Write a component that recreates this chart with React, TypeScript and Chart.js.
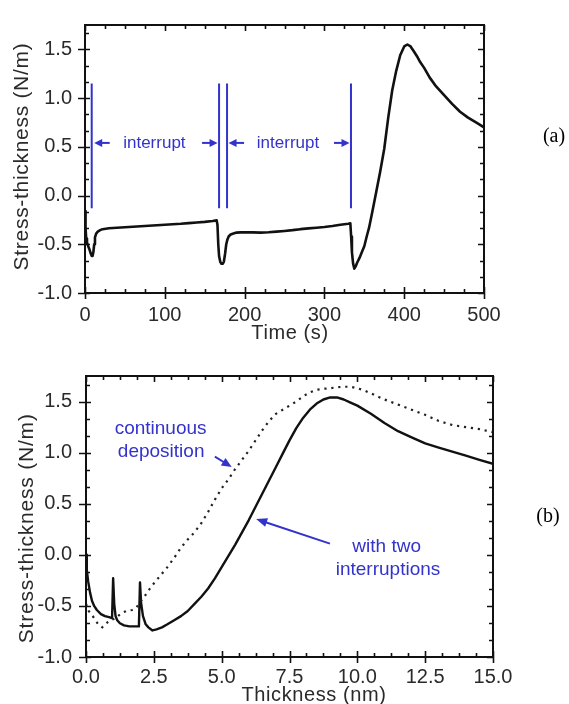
import React, { useEffect, useRef } from "react";
import { Chart, registerables } from "chart.js";

Chart.register(...registerables);

// ---------- Panel (a): stress-thickness vs time ----------
const timeS = [0, 0.7, 1.5, 2.5, 4, 5.5, 7, 8.5, 9.5, 10.5, 11.5, 12.5, 14, 16, 19, 22, 26, 30, 40, 50, 60, 70, 80, 90, 100, 110, 120, 130, 140, 150, 160, 165, 166, 167, 168, 169.5, 171, 172.5, 174, 175.5, 177, 178.5, 180, 182.5, 186, 190, 195, 200, 210, 220, 230, 240, 250, 260, 270, 280, 290, 300, 310, 320, 330, 332.5, 333.5, 334.5, 336, 337.5, 339, 341, 344, 347, 350, 353, 356, 360, 365, 370, 375, 380, 385, 390, 395, 400, 404, 408, 412, 416, 420, 425, 432, 440, 450, 460, 470, 480, 490, 500];
const stressTime = [-0.16, -0.33, -0.44, -0.48, -0.52, -0.55, -0.59, -0.62, -0.62, -0.58, -0.5, -0.43, -0.39, -0.37, -0.355, -0.345, -0.34, -0.335, -0.33, -0.325, -0.32, -0.315, -0.31, -0.305, -0.3, -0.295, -0.29, -0.283, -0.276, -0.27, -0.262, -0.255, -0.3, -0.5, -0.62, -0.68, -0.7, -0.7, -0.68, -0.6, -0.5, -0.45, -0.42, -0.4, -0.39, -0.38, -0.378, -0.377, -0.378, -0.38, -0.377, -0.37, -0.363, -0.355, -0.345, -0.337, -0.33, -0.322, -0.312, -0.3, -0.29, -0.285, -0.42, -0.58, -0.7, -0.75, -0.73, -0.69, -0.64, -0.58, -0.52, -0.42, -0.33, -0.17, 0.04, 0.25, 0.48, 0.8, 1.08, 1.28, 1.44, 1.53, 1.55, 1.53, 1.48, 1.43, 1.37, 1.31, 1.21, 1.12, 1.03, 0.94, 0.86, 0.8, 0.75, 0.7];
const interruptTimes = [8.4, 168, 178, 333.3];
const interruptLineRange = [-0.13, 1.15];
const interruptTextY = 0.54;
const interruptText = "interrupt";
const xTicksTime = [0, 100, 200, 300, 400, 500];

// ---------- Panel (b): stress-thickness vs thickness ----------
const thickSolid = [0, 0.03, 0.08, 0.15, 0.22, 0.3, 0.4, 0.55, 0.7, 0.85, 0.96, 1.0, 1.04, 1.09, 1.15, 1.25, 1.4, 1.6, 1.8, 1.95, 1.99, 2.03, 2.1, 2.2, 2.3, 2.45, 2.6, 2.8, 3.0, 3.25, 3.5, 3.75, 4.0, 4.25, 4.5, 4.75, 5.0, 5.25, 5.5, 5.75, 6.0, 6.25, 6.5, 6.75, 7.0, 7.25, 7.5, 7.75, 8.0, 8.25, 8.5, 8.75, 9.0, 9.25, 9.5, 9.75, 10.0, 10.5, 11.0, 11.5, 12.0, 12.5, 13.0, 13.5, 14.0, 14.5, 15.0];
const stressSolid = [0.0, -0.15, -0.26, -0.37, -0.45, -0.5, -0.54, -0.58, -0.6, -0.61, -0.62, -0.23, -0.48, -0.6, -0.64, -0.67, -0.69, -0.7, -0.7, -0.7, -0.27, -0.47, -0.6, -0.68, -0.71, -0.74, -0.73, -0.71, -0.68, -0.64, -0.6, -0.55, -0.48, -0.41, -0.33, -0.23, -0.12, -0.01, 0.1, 0.22, 0.34, 0.47, 0.6, 0.73, 0.86, 0.99, 1.12, 1.24, 1.34, 1.42, 1.48, 1.52, 1.54, 1.54, 1.52, 1.49, 1.46, 1.38, 1.29, 1.21, 1.15, 1.09, 1.05, 1.01, 0.97, 0.93, 0.89];
const thickDotted = [0, 0.1, 0.2, 0.3, 0.45, 0.6, 0.75, 0.9, 1.1, 1.3, 1.5, 1.7, 1.85, 2.0, 2.15, 2.3, 2.5, 2.75, 3.0, 3.25, 3.5, 3.75, 4.0, 4.25, 4.5, 4.75, 5.0, 5.25, 5.5, 5.75, 6.0, 6.25, 6.5, 6.75, 7.0, 7.25, 7.5, 7.75, 8.0, 8.25, 8.5, 8.75, 9.0, 9.25, 9.5, 9.75, 10.0, 10.25, 10.5, 10.75, 11.0, 11.5, 12.0, 12.5, 13.0, 13.5, 14.0, 14.5, 15.0];
const stressDotted = [-0.48, -0.55, -0.58, -0.62, -0.68, -0.71, -0.67, -0.64, -0.62, -0.57, -0.55, -0.54, -0.52, -0.46, -0.41, -0.35, -0.28, -0.2, -0.12, -0.03, 0.07, 0.15, 0.22, 0.31, 0.42, 0.54, 0.65, 0.74, 0.84, 0.93, 1.02, 1.12, 1.22, 1.31, 1.38, 1.42, 1.46, 1.5, 1.55, 1.59, 1.615, 1.625, 1.63, 1.64, 1.645, 1.645, 1.63, 1.61, 1.58, 1.55, 1.52, 1.47, 1.42, 1.37, 1.31, 1.27, 1.25, 1.23, 1.2];
const xTicksThick = [0, 2.5, 5, 7.5, 10, 12.5, 15];
const continuousLines = ["continuous", "deposition"];
const continuousPos = [[2.75, 1.23], [2.77, 1.01]];
const continuousArrow = [[4.75, 0.96], [5.37, 0.86]];
const interruptionsLines = ["with two", "interruptions"];
const interruptionsPos = [[11.08, 0.077], [11.13, -0.147]];
const interruptionsArrow = [[8.99, 0.11], [6.27, 0.35]];

// ---------- shared ----------
const yTicks = [-1, -0.5, 0, 0.5, 1, 1.5];
const yRange = [-1, 1.75];

const FONT = "'Liberation Sans', Arial, Helvetica, sans-serif";
const SERIF = "'Liberation Serif', 'Times New Roman', serif";
const BLUE = "#3333cc";
const INK = "#111";
const TEXT = "#2a2a2a";

function minorValues(min: number, max: number, step: number, majors: number[]) {
  const out: number[] = [];
  const k0 = Math.ceil(min / step - 1e-6);
  const k1 = Math.floor(max / step + 1e-6);
  for (let k = k0; k <= k1; k++) {
    const v = k * step;
    if (!majors.some((m) => Math.abs(m - v) < 1e-6)) out.push(v);
  }
  return out;
}

function drawFrame(chart: any, xMajor: number[], xMinorStep: number, yMajor: number[], yMinorStep: number) {
  const { ctx, chartArea, scales } = chart;
  const { left, right, top, bottom } = chartArea;
  const xs = scales.x;
  const ys = scales.y;
  ctx.save();
  ctx.strokeStyle = INK;
  ctx.lineWidth = 1.6;
  ctx.beginPath();
  for (const v of xMajor) {
    const p = Math.round(xs.getPixelForValue(v)) + 0.5;
    ctx.moveTo(p, bottom + 6);
    ctx.lineTo(p, bottom - 6);
    ctx.moveTo(p, top);
    ctx.lineTo(p, top + 6);
  }
  for (const v of minorValues(xs.min, xs.max, xMinorStep, xMajor)) {
    const p = Math.round(xs.getPixelForValue(v)) + 0.5;
    ctx.moveTo(p, bottom);
    ctx.lineTo(p, bottom - 4);
    ctx.moveTo(p, top);
    ctx.lineTo(p, top + 4);
  }
  for (const v of yMajor) {
    const p = Math.round(ys.getPixelForValue(v)) + 0.5;
    ctx.moveTo(left - 7, p);
    ctx.lineTo(left + 5, p);
    ctx.moveTo(right, p);
    ctx.lineTo(right - 6, p);
  }
  for (const v of minorValues(ys.min, ys.max, yMinorStep, yMajor)) {
    const p = Math.round(ys.getPixelForValue(v)) + 0.5;
    ctx.moveTo(left, p);
    ctx.lineTo(left + 4, p);
    ctx.moveTo(right, p);
    ctx.lineTo(right - 4, p);
  }
  ctx.stroke();
  ctx.lineWidth = 2;
  ctx.strokeRect(left, top, right - left, bottom - top);
  ctx.restore();
}

function arrow(ctx: CanvasRenderingContext2D, x0: number, y0: number, x1: number, y1: number, headLen: number, headW: number, lw: number) {
  const ang = Math.atan2(y1 - y0, x1 - x0);
  const c = Math.cos(ang);
  const s = Math.sin(ang);
  const bx = x1 - headLen * c;
  const by = y1 - headLen * s;
  ctx.lineWidth = lw;
  ctx.beginPath();
  ctx.moveTo(x0, y0);
  ctx.lineTo(bx + c, by + s);
  ctx.stroke();
  ctx.beginPath();
  ctx.moveTo(x1, y1);
  ctx.lineTo(bx + (headW / 2) * s, by - (headW / 2) * c);
  ctx.lineTo(bx - (headW / 2) * s, by + (headW / 2) * c);
  ctx.closePath();
  ctx.fill();
}

function drawText(ctx: any, text: string, x: number, y: number, font: string, color: string, spacing: string, rotate = 0, baseline = "middle") {
  ctx.save();
  ctx.font = font;
  ctx.fillStyle = color;
  ctx.textAlign = "center";
  ctx.textBaseline = baseline;
  try { ctx.letterSpacing = spacing; } catch (e) { /* ignore */ }
  ctx.translate(x, y);
  if (rotate) ctx.rotate(rotate);
  ctx.fillText(text, 0, 0);
  ctx.restore();
}

function baseScales(xMin: number, xMax: number, xTicks: number[], xFmt: (v: number) => string, xPad: number, xHeight: number, yWidth: number, yPad: number) {
  return {
    x: {
      type: "linear",
      min: xMin,
      max: xMax,
      grid: { display: false, drawTicks: false },
      border: { display: false },
      ticks: {
        font: { family: FONT, size: 20 },
        color: TEXT,
        padding: xPad,
        autoSkip: false,
        maxRotation: 0,
        callback: (v: any) => xFmt(Number(v)),
      },
      afterBuildTicks: (s: any) => {
        s.ticks = xTicks.map((v) => ({ value: v }));
      },
      afterFit: (s: any) => {
        s.height = xHeight;
      },
    },
    y: {
      type: "linear",
      min: yRange[0],
      max: yRange[1],
      grid: { display: false, drawTicks: false },
      border: { display: false },
      ticks: {
        font: { family: FONT, size: 20 },
        color: TEXT,
        padding: yPad,
        autoSkip: false,
        callback: (v: any) => Number(v).toFixed(1),
      },
      afterBuildTicks: (s: any) => {
        s.ticks = yTicks.map((v) => ({ value: v }));
      },
      afterFit: (s: any) => {
        s.width = yWidth;
      },
    },
  };
}

function configA(): any {
  return {
    type: "line",
    data: {
      datasets: [
        {
          data: timeS.map((t, i) => ({ x: t, y: stressTime[i] })),
          borderColor: INK,
          borderWidth: 2.6,
          pointRadius: 0,
          tension: 0,
          borderJoinStyle: "round",
          fill: false,
        },
      ],
    },
    options: {
      animation: false,
      responsive: false,
      events: [],
      layout: { padding: { left: 0, right: 85, top: 14, bottom: 0 } },
      plugins: { legend: { display: false }, tooltip: { enabled: false }, title: { display: false } },
      scales: baseScales(0, 500, xTicksTime, (v) => String(v), 10, 57, 85, 13),
    },
    plugins: [
      {
        id: "panelA",
        afterDraw(chart: any) {
          const { ctx, scales } = chart;
          drawFrame(chart, xTicksTime, 25, yTicks, 0.5 / 3);
          const xs = scales.x;
          const ys = scales.y;
          const px = interruptTimes.map((t) => xs.getPixelForValue(t));
          const y0 = ys.getPixelForValue(interruptLineRange[0]);
          const y1 = ys.getPixelForValue(interruptLineRange[1]);
          const ya = ys.getPixelForValue(interruptTextY);
          ctx.save();
          ctx.strokeStyle = BLUE;
          ctx.fillStyle = BLUE;
          ctx.lineWidth = 2;
          ctx.beginPath();
          for (const p of px) {
            ctx.moveTo(p, y0);
            ctx.lineTo(p, y1);
          }
          ctx.stroke();
          arrow(ctx, px[0] + 18, ya, px[0] + 2.5, ya, 8, 8, 2);
          arrow(ctx, px[1] - 17, ya, px[1] - 1.5, ya, 8, 8, 2);
          arrow(ctx, px[2] + 17, ya, px[2] + 1.5, ya, 8, 8, 2);
          arrow(ctx, px[3] - 17, ya, px[3] - 1.5, ya, 8, 8, 2);
          ctx.restore();
          const f = `17px ${FONT}`;
          drawText(ctx, interruptText, (px[0] + px[1]) / 2 - 1, ya, f, BLUE, "0px");
          drawText(ctx, interruptText, (px[2] + px[3]) / 2 - 1, ya, f, BLUE, "0px");
          drawText(ctx, "Time (s)", 290, 339, `20px ${FONT}`, TEXT, "0.6px", 0, "alphabetic");
          drawText(ctx, "Stress-thickness (N/m)", 22.5, 156.5, `21px ${FONT}`, TEXT, "0.7px", -Math.PI / 2);
          drawText(ctx, "(a)", 554, 137, `20px ${SERIF}`, "#000", "0px");
        },
      },
    ],
  };
}

function configB(): any {
  return {
    type: "line",
    data: {
      datasets: [
        {
          data: thickDotted.map((t, i) => ({ x: t, y: stressDotted[i] })),
          borderColor: "#222",
          borderWidth: 2.2,
          borderDash: [2.2, 4.8],
          borderCapStyle: "butt",
          pointRadius: 0,
          tension: 0,
          fill: false,
        },
        {
          data: thickSolid.map((t, i) => ({ x: t, y: stressSolid[i] })),
          borderColor: INK,
          borderWidth: 2.4,
          pointRadius: 0,
          tension: 0,
          borderJoinStyle: "round",
          fill: false,
        },
      ],
    },
    options: {
      animation: false,
      responsive: false,
      events: [],
      layout: { padding: { left: 0, right: 76, top: 22, bottom: 0 } },
      plugins: { legend: { display: false }, tooltip: { enabled: false }, title: { display: false } },
      scales: baseScales(0, 15, xTicksThick, (v) => v.toFixed(1), 8, 47, 86, 14),
    },
    plugins: [
      {
        id: "panelB",
        afterDraw(chart: any) {
          const { ctx, scales } = chart;
          drawFrame(chart, xTicksThick, 0.625, yTicks, 0.5 / 3);
          const xs = scales.x;
          const ys = scales.y;
          const P = (p: number[]) => [xs.getPixelForValue(p[0]), ys.getPixelForValue(p[1])];
          const f = `19px ${FONT}`;
          continuousLines.forEach((t, i) => {
            const [x, y] = P(continuousPos[i]);
            drawText(ctx, t, x, y, f, BLUE, "0px");
          });
          interruptionsLines.forEach((t, i) => {
            const [x, y] = P(interruptionsPos[i]);
            drawText(ctx, t, x, y, f, BLUE, "0px");
          });
          ctx.save();
          ctx.strokeStyle = BLUE;
          ctx.fillStyle = BLUE;
          const [a0x, a0y] = P(continuousArrow[0]);
          const [a1x, a1y] = P(continuousArrow[1]);
          arrow(ctx, a0x, a0y, a1x, a1y, 10, 9, 2);
          const [b0x, b0y] = P(interruptionsArrow[0]);
          const [b1x, b1y] = P(interruptionsArrow[1]);
          arrow(ctx, b0x, b0y, b1x, b1y, 11, 9, 2);
          ctx.restore();
          drawText(ctx, "Thickness (nm)", 314, 350.5, `20px ${FONT}`, TEXT, "0.6px", 0, "alphabetic");
          drawText(ctx, "Stress-thickness (N/m)", 27.5, 178.3, `21px ${FONT}`, TEXT, "0.8px", -Math.PI / 2);
          drawText(ctx, "(b)", 548, 167, `20px ${SERIF}`, "#000", "0px");
        },
      },
    ],
  };
}

export default function App() {
  const refA = useRef<HTMLCanvasElement>(null);
  const refB = useRef<HTMLCanvasElement>(null);
  useEffect(() => {
    const a = new Chart(refA.current as HTMLCanvasElement, configA());
    const b = new Chart(refB.current as HTMLCanvasElement, configB());
    return () => {
      a.destroy();
      b.destroy();
    };
  }, []);
  return (
    <div style={{ position: "absolute", left: 0, top: 0, width: 569, height: 704, background: "#fff" }}>
      <canvas ref={refA} width={569} height={350} style={{ position: "absolute", left: 0, top: 0, width: 569, height: 350 }} />
      <canvas ref={refB} width={569} height={354} style={{ position: "absolute", left: 0, top: 350, width: 569, height: 354 }} />
    </div>
  );
}
